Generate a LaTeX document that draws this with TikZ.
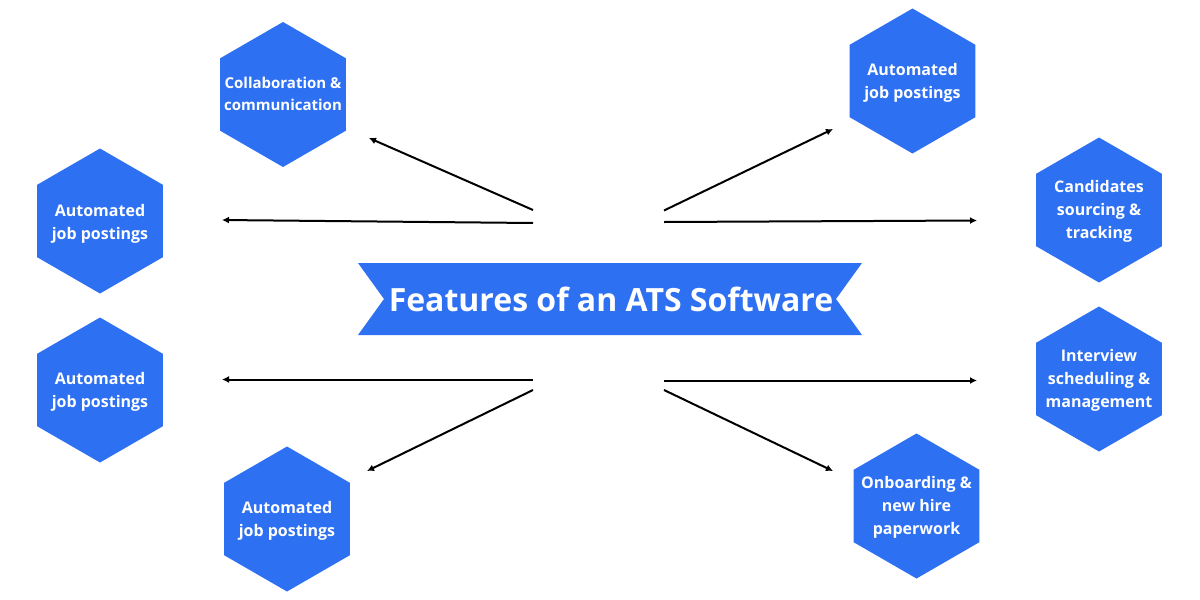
\documentclass[tikz,border=0pt]{standalone}
\usepackage{fontspec}
\setmainfont{Open Sans}
\usetikzlibrary{shapes.geometric,arrows.meta}
\definecolor{hexblue}{RGB}{46,112,242}
\tikzset{
  hexa/.style={regular polygon, regular polygon sides=6, shape border rotate=30,
    minimum size=145pt, inner sep=0pt, fill=hexblue, draw=none},
  hextext/.style={text=white, font=\fontsize{16}{23}\selectfont\bfseries, align=center, inner sep=0pt},
  conn/.style={line width=2pt, -{Latex[length=7pt,width=7pt]}},
}
\begin{document}
\begin{tikzpicture}[x=1pt,y=-1pt]
\useasboundingbox (0,0) rectangle (1200,600);
\fill[white] (0,0) rectangle (1200,600);
% banner
\fill[hexblue] (358,263) -- (862,263) -- (836,299) -- (862,335) -- (358,335) -- (384,299) -- cycle;
\node[text=white, font=\fontsize{32}{36}\selectfont\bfseries, inner sep=0pt, anchor=base] (title) at (611,311) {Features of an ATS Software};
% hexagons
\node[hexa] (h1) at (283,94.5) {};
\node[hexa] (h2) at (100,221) {};
\node[hexa] (h3) at (100,390) {};
\node[hexa] (h4) at (287,519) {};
\node[hexa] (h5) at (912.5,81) {};
\node[hexa] (h6) at (1099,210) {};
\node[hexa] (h7) at (1099,379) {};
\node[hexa] (h8) at (916.5,506) {};
\node[hextext, font=\fontsize{15}{22}\selectfont\bfseries] (t1) at (283,93.5) {Collaboration \&\\communication};
\node[hextext] (t2) at (100,223.5) {Automated\\job postings};
\node[hextext] (t3) at (100,391.5) {Automated\\job postings};
\node[hextext] (t4) at (287,520.5) {Automated\\job postings};
\node[hextext] (t5) at (912.5,82.5) {Automated\\job postings};
\node[hextext] (t6) at (1099,211.5) {Candidates\\sourcing \&\\tracking};
\node[hextext] (t7) at (1099,380.5) {Interview\\scheduling \&\\management};
\node[hextext] (t8) at (916.5,507.5) {Onboarding \&\\new hire\\paperwork};
% connector ends
\coordinate (sL1) at (533,210);
\coordinate (sL2) at (533,223);
\coordinate (sL3) at (533,379.5);
\coordinate (sL4) at (533,390);
\coordinate (sR1) at (664,210.5);
\coordinate (sR2) at (664,222);
\coordinate (sR3) at (664,380.5);
\coordinate (sR4) at (664,390);
\coordinate (eL1) at (369,138);
\coordinate (eL2) at (222,220);
\coordinate (eL3) at (222,379.5);
\coordinate (eL4) at (367,471);
\coordinate (eR1) at (833,129);
\coordinate (eR2) at (977,220.5);
\coordinate (eR3) at (977,380.5);
\coordinate (eR4) at (833,471);
\draw[conn] (sL1) -- (eL1);
\draw[conn] (sL2) -- (eL2);
\draw[conn] (sL3) -- (eL3);
\draw[conn] (sL4) -- (eL4);
\draw[conn] (sR1) -- (eR1);
\draw[conn] (sR2) -- (eR2);
\draw[conn] (sR3) -- (eR3);
\draw[conn] (sR4) -- (eR4);
\end{tikzpicture}
\end{document}
